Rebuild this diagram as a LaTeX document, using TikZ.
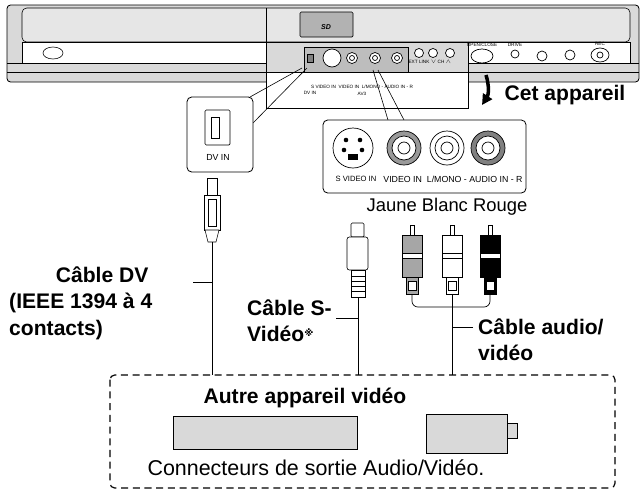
\documentclass[tikz,border=0pt]{standalone}
\usepackage{fontspec}
\setmainfont{Liberation Sans}
\newfontfamily\symfont{DejaVu Sans}
\usetikzlibrary{calc,arrows.meta}
\definecolor{panel}{HTML}{D9D9D9}
\definecolor{panelhi}{HTML}{E6E6E6}
\definecolor{jackbg}{HTML}{BDBDBD}
\tikzset{
  x=0.03cm, y=-0.03cm,
  base/.style={draw=black, line width=0.7pt, line join=round},
  thin/.style={draw=black, line width=0.5pt},
  wire/.style={draw=black, line width=0.6pt},
  ring/.style={draw=black, line width=0.6pt, fill=white},
  big/.style={font=\fontsize{18}{22.5}\selectfont\bfseries, align=left, inner sep=0pt},
  lab/.style={font=\fontsize{18.3}{22}\selectfont, inner sep=0pt},
  tiny/.style={font=\fontsize{4}{4.5}\selectfont, inner sep=0pt},
  small/.style={font=\fontsize{7.5}{8}\selectfont, inner sep=0pt},
}
\begin{document}
\begin{tikzpicture}
  \useasboundingbox (0,0) rectangle (643,492);
  % device
  \draw[base, fill=panel, rounded corners=3] (7,5) rectangle (639,82);
  \draw[thin, fill=panelhi, rounded corners=4] (22,8) rectangle (630,42);
  \draw[thin] (266,8) -- (266,42);
  \draw[thin] (7,63) -- (639,63);
  \draw[thin] (7,72) -- (639,72);
  \draw[thin, fill=white] (22,42) rectangle (266,63);
  \draw[thin, fill=white] (468,42) rectangle (630,63);
  \draw[thin, fill=white] (266,42) rectangle (468,108);
  \draw[thin, fill=panel] (266,42) rectangle (468,72);
  \draw[thin, fill=gray!60, rounded corners=1] (300,12) rectangle (353,37);
  \node[font=\bfseries\itshape\fontsize{6}{6}\selectfont, inner sep=0pt] (sdlogo) at (326,27) {SD};
  \draw[thin, fill=white] (53,53) ellipse (10 and 6);
  % jack strip on device
  \draw[thin, fill=jackbg] (304,47) rectangle (408,72);
  \draw[thin, fill=gray] (307,54) rectangle (313,62);
  \draw[ring] (332,58) circle (9);
  \foreach \cx in {352,375,397}
    \draw[ring] (\cx,58) circle (5.5) (\cx,58) circle (2.5);
  \foreach \cx in {419,433,450}
    \draw[ring] (\cx,53) circle (4.5);
  \node[tiny] (extlink) at (419,62) {EXT LINK};
  \node[tiny] (chlab) at (441,62) {$\vee$ CH $\wedge$};
  \draw[ring] (482,56) ellipse (11 and 7);
  \node[tiny] (openclose) at (482,45) {OPEN/CLOSE};
  \draw[ring] (515,54) circle (4);
  \node[tiny] (drive) at (515,45) {DRIVE};
  \draw[ring] (542,56) circle (5);
  \draw[ring] (570,55) circle (5);
  \draw[ring] (600,55) ellipse (9 and 7);
  \draw[ring] (600,55) circle (3);
  \node[tiny] (rec) at (600,44) {REC};
  % flap labels
  \node[tiny] (flapdv) at (310,93) {DV IN};
  \node[tiny] (flapav) at (362,87) {S VIDEO IN \ VIDEO IN \ L/MONO - AUDIO IN - R};
  \node[tiny] (flapav3) at (362,94) {AV3};
  % arrow to device label
  \draw[-{Triangle[length=9pt,width=9pt]}, line width=3pt] (486,75) to[bend left=25] (482,105);
  \node[big] (device) at (565,95) {Cet appareil};
  % DV inset
  \draw[thin] (250,97) -- (302,68);
  \draw[thin] (253,123) -- (307,68);
  \draw[base, fill=white, rounded corners=4] (187,97) rectangle (253,172);
  \draw[thin, fill=white, rounded corners=1] (205,110) rectangle (230,145);
  \draw[thin] (211,117) rectangle (219,138);
  \node[small] (dvin) at (218,157) {DV IN};
  % AV inset
  \draw[thin] (373,70) -- (388,120);
  \draw[thin] (378,70) -- (404,120);
  \draw[base, fill=white, rounded corners=4] (323,120) rectangle (526,193);
  \draw[ring] (353,148) circle (20);
  \foreach \dx/\dy in {-7/-8,7/-8,-9/2,9/2}
    \fill (353+\dx,148+\dy) circle (2.3);
  \fill (348,154) rectangle (358,160);
  \foreach \cx/\cc in {404/gray!80,447/white,488/gray}
    {\draw[ring, fill=\cc] (\cx,148) circle (17);
     \draw[ring] (\cx,148) circle (12) (\cx,148) circle (6);}
  \node[small, font=\fontsize{6.5}{7}\selectfont] (svin) at (356,179) {S VIDEO IN};
  \node[small] (audin) at (453,179) {VIDEO IN \ L/MONO - AUDIO IN - R};
  \node[lab, font=\fontsize{15.7}{18}\selectfont] (colours) at (447,207) {Jaune Blanc Rouge};
  % DV plug and cable
  \draw[thin, fill=white] (207,178) rectangle (217,195);
  \draw[thin, fill=white] (204,195) rectangle (220,230);
  \draw[thin] (208,199) rectangle (216,226);
  \coordinate (dvtop) at (212,242);
  \draw[thin, fill=white] (205,230) -- (219,230) -- (216,242) -- (208,242) -- cycle;
  % S-video plug
  \draw[thin, fill=white, rounded corners=1] (351,223) rectangle (364,237);
  \draw[thin, fill=white, rounded corners=2] (347,237) rectangle (368,270);
  \draw[thin, fill=white] (351,270) rectangle (365,297);
  \foreach \ly in {276,281,286,291} \draw[thin] (351,\ly) -- (365,\ly);
  \coordinate (svtop) at (358,297);
  % RCA plugs
  \foreach \cx/\cc in {412/gray!70,452/white,490/black}
    {\draw[thin, fill=white] (\cx-2,225) rectangle (\cx+2,235);
     \draw[thin, fill=\cc] (\cx-10,235) rectangle (\cx+10,277);
     \draw[thin, fill=white] (\cx-10,253) rectangle (\cx+10,258);
     \draw[thin, fill=\cc] (\cx-6,277) rectangle (\cx+6,294);
     \draw[thin, fill=white] (\cx-4,281) rectangle (\cx+4,290);}
  \draw[wire, rounded corners=5] (412,294) -- (412,307) -- (490,307) -- (490,294);
  \coordinate (avtop) at (452,294);
  % dashed box and its contents
  \draw[thin, line width=1pt, dash pattern=on 6pt off 4pt, rounded corners=4] (110,375) rectangle (615,488);
  \coordinate (dvbot) at (212,375);
  \coordinate (svbot) at (358,375);
  \coordinate (avbot) at (452,375);
  \draw[wire] (dvtop) -- (dvbot);
  \draw[wire] (svtop) -- (svbot);
  \draw[wire] (avtop) -- (avbot);
  \node[big] (other) at (305,398) {Autre appareil vidéo};
  \draw[thin, fill=panel] (173,416) rectangle (357,449);
  \draw[thin, fill=panel] (426,414) rectangle (507,453);
  \draw[thin, fill=panel] (507,423) rectangle (517,438);
  \node[lab] (outlab) at (316,468) {Connecteurs de sortie Audio/Vidéo.};
  % cable labels with leaders
  \node[big, anchor=west] (dvcable) at (9,303) {\hspace*{1.4cm}Câble DV\\(IEEE 1394 à 4\\contacts)};
  \node[big, anchor=west] (svcable) at (247,321) {Câble S-\\Vidéo{\symfont\fontsize{8}{8}\selectfont\raisebox{5pt}{※}}};
  \node[big, anchor=west] (avcable) at (478,340) {Câble audio/\\vidéo};
  \coordinate (dvlead) at (193,282);
  \coordinate (svlead) at (336,318);
  \coordinate (avlead) at (473,327);
  \draw[thin] (dvlead) -- (dvlead -| dvtop);
  \draw[thin] (svlead) -- (svlead -| svtop);
  \draw[thin] (avlead) -- (avlead -| avtop);
\end{tikzpicture}
\end{document}
